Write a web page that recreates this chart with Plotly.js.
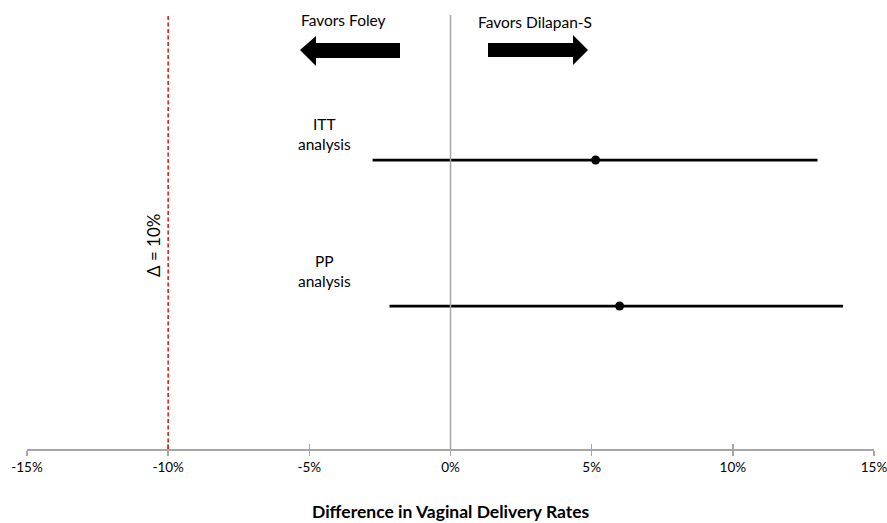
<!DOCTYPE html>
<html><head><meta charset="utf-8">
<script src="https://cdn.plot.ly/plotly-3.0.1.min.js"></script>
<style>html,body{margin:0;padding:0;background:#fff}#c{width:887px;height:523px}</style>
</head><body><div id="c"></div>
<script>
const analyses = ["ITT analysis", "PP analysis"];
const analysisLabels = ["ITT<br>analysis", "PP<br>analysis"];
const rowPos = [2, 1];
const estimate = [5.14, 5.99];
const lower = [-2.76, -2.16];
const upper = [13.0, 13.9];
const tickVals = [-15, -10, -5, 0, 5, 10, 15];
const tickText = ["-15%", "-10%", "-5%", "0%", "5%", "10%", "15%"];
const margin = -10;

const F = "Lato, 'Open Sans', sans-serif";
const H = 449; // plot height in px (t=0)
const py = p => 1 - p / H;
const px = p => (p - 27) / 847;

const trace = {
  type: "scatter", mode: "markers",
  x: estimate, y: rowPos, text: analyses,
  marker: {color: "#000", size: 9},
  error_x: {type: "data", symmetric: false,
    array: upper.map((u, i) => u - estimate[i]),
    arrayminus: estimate.map((e, i) => e - lower[i]),
    color: "#000", thickness: 2.8, width: 0},
  hoverinfo: "x+text", showlegend: false
};
const dummy = {type: "scatter", x: [0], y: [0], xaxis: "x2", yaxis: "y", mode: "markers",
  marker: {opacity: 0}, hoverinfo: "skip", showlegend: false};

const shapes = [
  {type: "line", xref: "x", yref: "paper", x0: 0, x1: 0, y0: 0, y1: py(15),
   line: {color: "#a6a6a6", width: 1.5}},
  {type: "line", xref: "x", yref: "paper", x0: margin, x1: margin, y0: 0, y1: py(14),
   line: {color: "#e0211c", width: 1.6, dash: "4px,2.5px"}},
  {type: "path", xref: "paper", yref: "paper", fillcolor: "#000", line: {width: 0},
   path: `M ${px(300)} ${py(50)} L ${px(316)} ${py(36)} L ${px(316)} ${py(43)} L ${px(400)} ${py(43)} L ${px(400)} ${py(58)} L ${px(316)} ${py(58)} L ${px(316)} ${py(66)} Z`},
  {type: "path", xref: "paper", yref: "paper", fillcolor: "#000", line: {width: 0},
   path: `M ${px(588)} ${py(50)} L ${px(573)} ${py(35)} L ${px(573)} ${py(43)} L ${px(488)} ${py(43)} L ${px(488)} ${py(57)} L ${px(573)} ${py(57)} L ${px(573)} ${py(65)} Z`}
];

const base = {showarrow: false, xanchor: "center", yanchor: "middle"};
const annotations = [
  Object.assign({x: -4.46, y: 2.18, xref: "x", yref: "y", text: analysisLabels[0],
   font: {family: F, size: 15.5, color: "#000"}}, base),
  Object.assign({x: -4.46, y: 1.24, xref: "x", yref: "y", text: analysisLabels[1],
   font: {family: F, size: 15.5, color: "#000"}}, base),
  Object.assign({x: px(343), y: py(20), xref: "paper", yref: "paper", text: "Favors Foley",
   font: {family: F, size: 15.5, color: "#000"}}, base),
  Object.assign({x: px(535), y: py(22), xref: "paper", yref: "paper", text: "Favors Dilapan-S",
   font: {family: F, size: 15.5, color: "#000"}}, base),
  Object.assign({x: px(153), y: py(246), xref: "paper", yref: "paper", text: "Δ = 10%",
   textangle: -90, font: {family: F, size: 17, color: "#000"}}, base),
  Object.assign({x: 0.5, y: py(511), xref: "paper", yref: "paper", text: "<b>Difference in Vaginal Delivery Rates</b>",
   font: {family: F, size: 17.5, color: "#000"}}, base)
];

const layout = {
  width: 887, height: 523,
  margin: {l: 27, r: 13, t: 0, b: 74},
  paper_bgcolor: "#fff", plot_bgcolor: "#fff",
  xaxis: {range: [-15, 15], tickvals: tickVals, ticktext: tickText, showgrid: false, zeroline: false,
    showline: true, linecolor: "#a6a6a6", linewidth: 1.5, ticks: "outside", ticklen: 5,
    tickcolor: "#a6a6a6", tickwidth: 1.5, ticklabeloverflow: "allow",
    tickfont: {family: F, size: 13.5, color: "#000"}, fixedrange: true},
  xaxis2: {range: [-15, 15], overlaying: "x", anchor: "y", side: "bottom", tickvals: tickVals,
    showticklabels: false, showgrid: false, zeroline: false, ticks: "inside", ticklen: 5,
    tickcolor: "#a6a6a6", tickwidth: 1.5, showline: false},
  yaxis: {range: [0.021, 3.096], visible: false, fixedrange: true},
  shapes: shapes, annotations: annotations, showlegend: false
};

Plotly.newPlot("c", [trace, dummy], layout, {displayModeBar: false, staticPlot: true});
</script></body></html>
